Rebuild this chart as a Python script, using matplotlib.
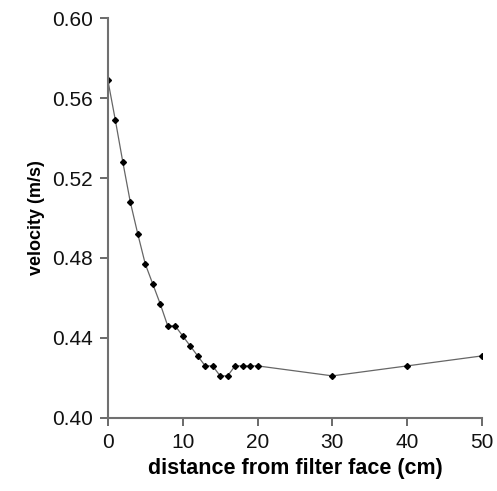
import numpy as np
import matplotlib.pyplot as plt

plt.rcParams['font.family'] = ['Liberation Sans', 'DejaVu Sans']

# distance from filter face (cm) and measured velocity (m/s)
distance = [0, 1, 2, 3, 4, 5, 6, 7, 8, 9, 10, 11, 12, 13, 14, 15, 16, 17, 18, 19, 20, 30, 40, 50]
velocity = [0.569, 0.549, 0.528, 0.508, 0.492, 0.477, 0.467, 0.457, 0.446, 0.446,
            0.441, 0.436, 0.431, 0.426, 0.426, 0.421, 0.421, 0.426, 0.426, 0.426,
            0.426, 0.421, 0.426, 0.431]

xticks = [0, 10, 20, 30, 40, 50]
yticks = [0.40, 0.44, 0.48, 0.52, 0.56, 0.60]

fig = plt.figure(figsize=(4.97, 4.91), dpi=100)
ax = fig.add_axes([0.217, 0.149, 0.753, 0.814])

ax.plot(distance, velocity, color='#666666', lw=0.9,
        marker='D', markersize=3, markerfacecolor='black', markeredgecolor='black')

ax.set_xlim(0, 50)
ax.set_ylim(0.40, 0.60)
ax.set_xticks(xticks)
ax.set_yticks(yticks)
ax.set_yticklabels(['%.2f' % v for v in yticks])

for s in ['top', 'right']:
    ax.spines[s].set_visible(False)
for s in ['left', 'bottom']:
    ax.spines[s].set_color('#707070')
    ax.spines[s].set_linewidth(1.5)
ax.tick_params(axis='both', colors='#505050', labelcolor='#111111', labelsize=15,
               length=6, width=1.2, direction='out', pad=5)

ax.set_xlabel('distance from filter face (cm)', fontsize=15.5, fontweight='bold', labelpad=4)
ax.set_ylabel('velocity (m/s)', fontsize=13, fontweight='bold', labelpad=5)

fig.savefig('out.png', dpi=100)
